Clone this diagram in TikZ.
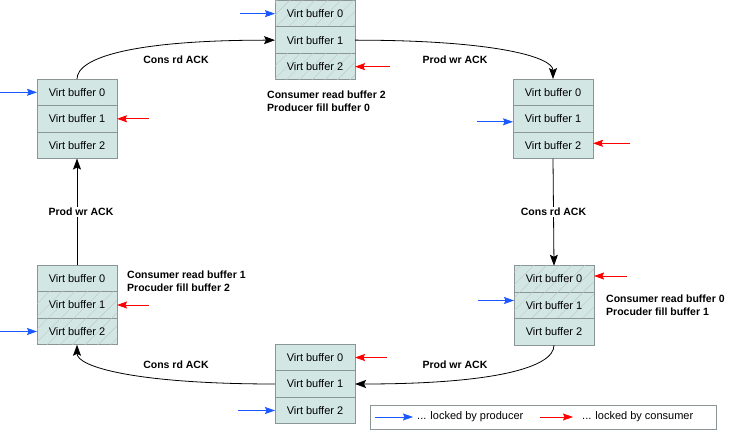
\documentclass[tikz,border=0pt]{standalone}
\usepackage{fontspec}
\setmainfont{Liberation Sans}
\usetikzlibrary{arrows.meta,positioning,patterns.meta}
\definecolor{cellfill}{RGB}{210,231,228}
\definecolor{cellline}{RGB}{138,150,150}
\definecolor{prodblue}{RGB}{28,88,255}
\definecolor{consred}{RGB}{255,0,0}

\begin{document}
\begin{tikzpicture}[
  x=1pt,y=1pt,
  node distance=0pt,
  cell/.style={draw=cellline,fill=cellfill,line width=0.8pt,minimum width=80pt,minimum height=26.5pt,inner sep=0pt,outer sep=0pt,font=\fontsize{11}{13}\selectfont},
  hatched/.style={cell,postaction={pattern={Lines[angle=45,distance=9pt,line width=0.4pt]},pattern color=cellline!55}},
  arrow/.style={-{Stealth[length=11pt,width=8pt,inset=2pt]},line width=0.8pt},
  lockp/.style={draw=prodblue,line width=0.8pt,-{Stealth[length=10pt,width=7pt,inset=1.5pt]}},
  lockc/.style={draw=consred,line width=0.8pt,-{Stealth[length=10pt,width=7pt,inset=1.5pt]}},
  lbl/.style={font=\bfseries\fontsize{10.5}{13}\selectfont,inner sep=1pt},
  note/.style={lbl,align=left,anchor=north west},
  legtxt/.style={font=\fontsize{11}{13}\selectfont,inner sep=2pt,anchor=west}
]
  \useasboundingbox (0,0) rectangle (731,-430);

  \node[hatched] (top0) at (315,-13.65) {Virt buffer 0};
  \node[cell,below=of top0] (top1) {Virt buffer 1};
  \node[hatched,below=of top1] (top2) {Virt buffer 2};

  \node[cell] (rtop0) at (553,-92.3) {Virt buffer 0};
  \node[cell,below=of rtop0] (rtop1) {Virt buffer 1};
  \node[cell,below=of rtop1] (rtop2) {Virt buffer 2};

  \node[hatched] (rbot0) at (554,-279) {Virt buffer 0};
  \node[hatched,below=of rbot0] (rbot1) {Virt buffer 1};
  \node[cell,below=of rbot1] (rbot2) {Virt buffer 2};

  \node[cell] (bot0) at (315,-357.5) {Virt buffer 0};
  \node[cell,below=of bot0] (bot1) {Virt buffer 1};
  \node[cell,below=of bot1] (bot2) {Virt buffer 2};

  \node[cell] (lbot0) at (77,-278.5) {Virt buffer 0};
  \node[hatched,below=of lbot0] (lbot1) {Virt buffer 1};
  \node[hatched,below=of lbot1] (lbot2) {Virt buffer 2};

  \node[cell] (ltop0) at (77,-92.3) {Virt buffer 0};
  \node[cell,below=of ltop0] (ltop1) {Virt buffer 1};
  \node[cell,below=of ltop1] (ltop2) {Virt buffer 2};

  \node[note] (note1) at (266,-90) {Consumer read buffer 2\\Producer fill buffer 0};
  \node[note] (note2) at (126,-270) {Consumer read buffer 1\\Procuder fill buffer 2};
  \node[note] (note3) at (605,-294) {Consumer read buffer 0\\Procuder fill buffer 1};

  \node[lbl] (ack1) at (176,-60) {Cons rd ACK};
  \node[lbl] (ack2) at (455,-60) {Prod wr ACK};
  \node[lbl] (ack4) at (455,-365) {Prod wr ACK};
  \node[lbl] (ack5) at (176,-365) {Cons rd ACK};

  \draw[arrow] (ltop0.north) .. controls +(0,22) and +(-140,0) .. (top1.west);
  \draw[arrow] (top1.east) .. controls +(140,0) and +(0,22) .. (rtop0.north);
  \draw[arrow] (rtop2.south) -- node[lbl,fill=white] (ack3) {Cons rd ACK} (rbot0.north);
  \draw[arrow] (rbot2.south) .. controls +(0,-22) and +(140,0) .. (bot1.east);
  \draw[arrow] (bot1.west) .. controls +(-140,0) and +(0,-22) .. (lbot2.south);
  \draw[arrow] (lbot0.north) -- node[lbl,fill=white,xshift=4pt] (ack6) {Prod wr ACK} (ltop2.south);

  \draw[lockp] ([xshift=-35pt]top0.west) -- (top0.west);
  \draw[lockc] ([xshift=35pt]top2.east) -- (top2.east);
  \draw[lockp] ([xshift=-37pt]ltop0.west) -- (ltop0.west);
  \draw[lockc] ([xshift=32pt]ltop1.east) -- (ltop1.east);
  \draw[lockp] ([xshift=-36pt,yshift=-3pt]rtop1.west) -- ([yshift=-3pt]rtop1.west);
  \draw[lockc] ([xshift=37pt,yshift=2pt]rtop2.east) -- ([yshift=2pt]rtop2.east);
  \draw[lockc] ([xshift=33pt,yshift=3pt]rbot0.east) -- ([yshift=3pt]rbot0.east);
  \draw[lockp] ([xshift=-36pt,yshift=5pt]rbot1.west) -- ([yshift=5pt]rbot1.west);
  \draw[lockc] ([xshift=32pt]bot0.east) -- (bot0.east);
  \draw[lockp] ([xshift=-37pt]bot2.west) -- (bot2.west);
  \draw[lockc] ([xshift=32pt]lbot1.east) -- (lbot1.east);
  \draw[lockp] ([xshift=-37pt]lbot2.west) -- (lbot2.west);

  \node[draw=cellline,line width=0.8pt,minimum width=346pt,minimum height=24pt,inner sep=0pt] (legend) at (543.5,-417) {};
  \node[legtxt] (legp) at (415,-417) {... locked by producer};
  \node[legtxt] (legc) at (580,-417) {... locked by consumer};
  \draw[lockp] ([xshift=-40pt]legp.west) -- ([xshift=-2pt]legp.west);
  \draw[lockc] ([xshift=-40pt]legc.west) -- ([xshift=-7pt]legc.west);
\end{tikzpicture}
\end{document}
